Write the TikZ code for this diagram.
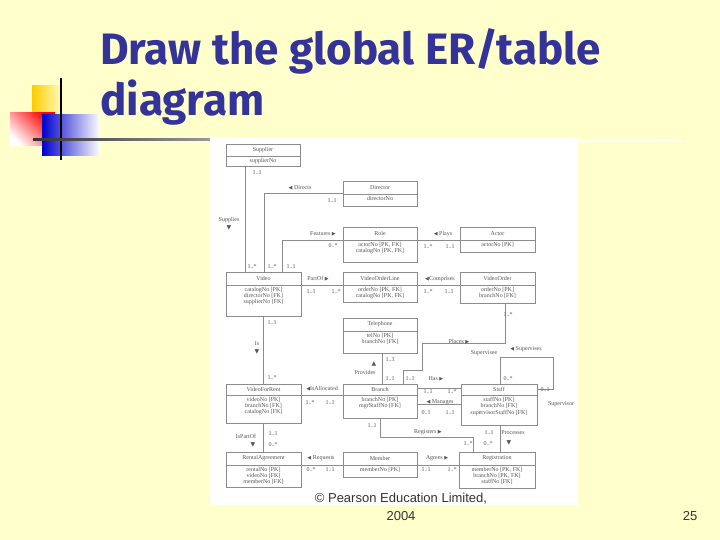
\documentclass[tikz,border=0pt]{standalone}
\usepackage{fontspec}
\setmainfont{Liberation Serif}
\newfontfamily\titlefont{Fira Sans}
\newfontfamily\symf{DejaVu Sans}
\newfontfamily\footf{Liberation Sans}
\definecolor{bg}{HTML}{FFFFCC}
\definecolor{ttl}{HTML}{333399}
\definecolor{ln}{HTML}{8C8C8C}
\definecolor{tx}{HTML}{555555}
\tikzset{
  ent/.style={draw=ln, line width=0.5pt, fill=white, anchor=north west, inner sep=0pt},
  lab/.style={font=\fontsize{6}{7}\selectfont, text=tx, inner sep=0.5pt},
  rel/.style={draw=ln, line width=0.5pt},
}
\newcommand\ent[8]{% name x1 y1 x2 ydiv y2 title attrs
  \node[ent, minimum width=#4-#2, minimum height=#6-#3] (#1) at (#2,#3) {};
  \draw[ln, line width=0.5pt] (#2,#5) -- (#4,#5);
  \node[lab] (#1t) at ({(#2+#4)/2},{(#3+#5)/2}) {#7};
  \node[lab, align=center, anchor=north, font=\fontsize{6}{6.3}\selectfont] (#1a) at ({(#2+#4)/2},#5+1.5) {#8};
}
\newcommand\ra{{\symf\fontsize{5}{6}\selectfont ▶}}
\newcommand\la{{\symf\fontsize{5}{6}\selectfont ◀}}
\newcommand\da{{\symf\fontsize{6}{6}\selectfont ▼}}
\newcommand\ua{{\symf\fontsize{6}{6}\selectfont ▲}}
\begin{document}
\begin{tikzpicture}[x=1pt,y=-1pt]
\useasboundingbox (0,0) rectangle (720,540);
\fill[bg] (0,0) rectangle (720,540);
% decorations
\shade[left color=yellow!60!orange, right color=bg] (32,86) rectangle (64,116);
\shade[top color=red, bottom color=white, shading angle=-45] (10,113) rectangle (55,146);
\shade[left color=blue!80!black, right color=white] (42,115) rectangle (100,156);
\draw[black, line width=1.5pt] (61,78) -- (61,160);
\shade[left color=black!80, right color=black!40] (33,139) rectangle (210,141);
\fill[white!85!bg] (578,139) rectangle (682,141);
% title
\node[anchor=base west, text=ttl, font=\titlefont\bfseries\fontsize{44}{48}\selectfont, inner sep=0] (t1) at (100,65) {Draw the global ER/table};
\node[anchor=base west, text=ttl, font=\titlefont\bfseries\fontsize{44}{48}\selectfont, inner sep=0] (t2) at (100,116) {diagram};
% diagram area
\fill[white] (210,138) rectangle (578,505);
% entities
\ent{sup}{226}{144}{300}{156}{166}{Supplier}{supplierNo}
\ent{dir}{343}{181}{417}{194}{206}{Director}{directorNo}
\ent{role}{343}{227}{417}{240}{262}{Role}{actorNo [PK, FK]\\catalogNo [PK, FK]}
\ent{act}{460}{227}{535}{240}{252}{Actor}{actorNo [PK]}
\ent{vid}{226}{272}{301}{285}{316}{Video}{catalogNo [PK]\\directorNo [FK]\\supplierNo [FK]}
\ent{vol}{343}{272}{417}{285}{302}{VideoOrderLine}{orderNo [PK, FK]\\catalogNo [PK, FK]}
\ent{vo}{460}{272}{535}{285}{303}{VideoOrder}{orderNo [PK]\\branchNo [FK]}
\ent{tel}{343}{318}{417}{331}{353}{Telephone}{telNo [PK]\\branchNo [FK]}
\ent{vfr}{226}{384}{301}{395}{423}{VideoForRent}{videoNo [PK]\\branchNo [FK]\\catalogNo [FK]}
\ent{br}{343}{384}{417}{395}{418}{Branch}{branchNo [PK]\\mgrStaffNo [FK]}
\ent{st}{461}{384}{537}{395}{425}{Staff}{staffNo [PK]\\branchNo [FK]\\supervisorStaffNo [FK]}
\ent{ra}{226}{452}{301}{465}{487}{RentalAgreement}{rentalNo [PK]\\videoNo [FK]\\memberNo [FK]}
\ent{mem}{343}{452}{417}{465}{477}{Member}{memberNo [PK]}
\ent{reg}{459}{452}{535}{465}{488}{Registration}{memberNo [PK, FK]\\branchNo [PK, FK]\\staffNo [FK]}
% connectors
\draw[rel] (sup.south -| 245,0) -- (vid.north -| 245,0);
\draw[rel] (dir.west |- 0,193) -- (264,193) -- (vid.north -| 264,0);
\draw[rel] (role.west |- 0,240) -- (282,240) -- (vid.north -| 282,0);
\draw[rel] (role.east |- 0,240) -- (act.west |- 0,240);
\draw[rel] (vid.east |- 0,285) -- (vol.west |- 0,285);
\draw[rel] (vol.east |- 0,285) -- (vo.west |- 0,285);
\draw[rel] (vo.south -| 505,0) -- (505,343) -- (422,343) -- (422,370) -- (403,370) -- (br.north -| 403,0);
\draw[rel] (tel.south -| 382,0) -- (br.north -| 382,0);
\draw[rel] (st.north -| 500,0) -- (500,357) -- (553,357) -- (553,389) -- (st.east |- 0,389);
\draw[rel] (br.east |- 0,388) -- (st.west |- 0,388);
\draw[rel] (br.east |- 0,404) -- (st.west |- 0,404);
\draw[rel] (vfr.east |- 0,395) -- (br.west |- 0,395);
\draw[rel] (vid.south -| 263,0) -- (vfr.north -| 263,0);
\draw[rel] (vfr.south -| 263,0) -- (ra.north -| 263,0);
\draw[rel] (ra.east |- 0,465) -- (mem.west |- 0,465);
\draw[rel] (mem.east |- 0,465) -- (reg.west |- 0,465);
\draw[rel] (br.south -| 380,0) -- (380,437) -- (473,437) -- (reg.north -| 473,0);
\draw[rel] (st.south -| 500,0) -- (reg.north -| 500,0);
% labels
\node[lab] (l1) at (257,173) {1..1};
\node[lab, align=center] (l2) at (229,224) {Supplies\\[1pt]\da};
\node[lab] (l3) at (252,267) {1..*};
\node[lab] (l4) at (272,267) {1..*};
\node[lab] (l5) at (291,267) {1..1};
\node[lab] (l6) at (300,188) {\la\ Directs};
\node[lab] (l7) at (332,201) {1..1};
\node[lab] (l8) at (323,234) {Features \ra};
\node[lab] (l9) at (333,246) {0..*};
\node[lab] (l10) at (443,234) {\la\ Plays};
\node[lab] (l11) at (428,247) {1..*};
\node[lab] (l12) at (450,247) {1..1};
\node[lab] (l13) at (318,279) {PartOf \ra};
\node[lab] (l14) at (311,292) {1..1};
\node[lab] (l15) at (336,292) {1..*};
\node[lab] (l16) at (440,279) {\la Comprises};
\node[lab] (l17) at (428,292) {1..*};
\node[lab] (l18) at (449,292) {1..1};
\node[lab] (l19) at (508,315) {1..*};
\node[lab] (l20) at (459,342) {Places \ra};
\node[lab] (l21) at (526,349) {\la\ Supervises};
\node[lab] (l22) at (484,353) {Supervisee};
\node[lab] (l23) at (508,379) {0..*};
\node[lab] (l24) at (545,390) {0..1};
\node[lab] (l25) at (561,404) {Supervisor};
\node[lab] (l26) at (272,323) {1..1};
\node[lab, align=center] (l27) at (257,348) {Is\\[1pt]\da};
\node[lab] (l28) at (272,378) {1..*};
\node[lab] (l29) at (390,360) {1..3};
\node[lab] (l30) at (374,364) {\ua};
\node[lab] (l31) at (365,372) {Provides};
\node[lab] (l32) at (390,379) {1..1};
\node[lab] (l33) at (410,379) {1..1};
\node[lab] (l34) at (322,389) {\la IsAllocated};
\node[lab] (l35) at (310,403) {1..*};
\node[lab] (l36) at (330,403) {1..1};
\node[lab] (l37) at (436,379) {Has \ra};
\node[lab] (l38) at (428,392) {1..1};
\node[lab] (l39) at (452,392) {1..*};
\node[lab] (l40) at (440,402) {\la\ Manages};
\node[lab] (l41) at (426,413) {0..1};
\node[lab] (l42) at (450,413) {1..1};
\node[lab] (l43) at (372,426) {1..1};
\node[lab] (l44) at (428,432) {Registers \ra};
\node[lab] (l45) at (468,444) {1..*};
\node[lab] (l46) at (489,433) {1..1};
\node[lab] (l47) at (488,444) {0..*};
\node[lab] (l48) at (513,433) {Processes};
\node[lab] (l49) at (509,443) {\da};
\node[lab] (l50) at (246,436) {IsPartOf};
\node[lab] (l51) at (253,445) {\da};
\node[lab] (l52) at (273,434) {1..1};
\node[lab] (l53) at (273,445) {0..*};
\node[lab] (l54) at (321,458) {\la\ Requests};
\node[lab] (l55) at (311,470) {0..*};
\node[lab] (l56) at (330,470) {1..1};
\node[lab] (l57) at (437,458) {Agrees \ra};
\node[lab] (l58) at (426,470) {1..1};
\node[lab] (l59) at (452,470) {1..*};
% footer
\node[font=\footf\fontsize{13}{15}\selectfont, text=black!80] (f1) at (401,499) {© Pearson Education Limited,};
\node[font=\footf\fontsize{13}{15}\selectfont, text=black!80] (f2) at (401,516) {2004};
\node[font=\footf\fontsize{13}{15}\selectfont, text=black!80] (pg) at (690,516) {25};
\end{tikzpicture}
\end{document}
